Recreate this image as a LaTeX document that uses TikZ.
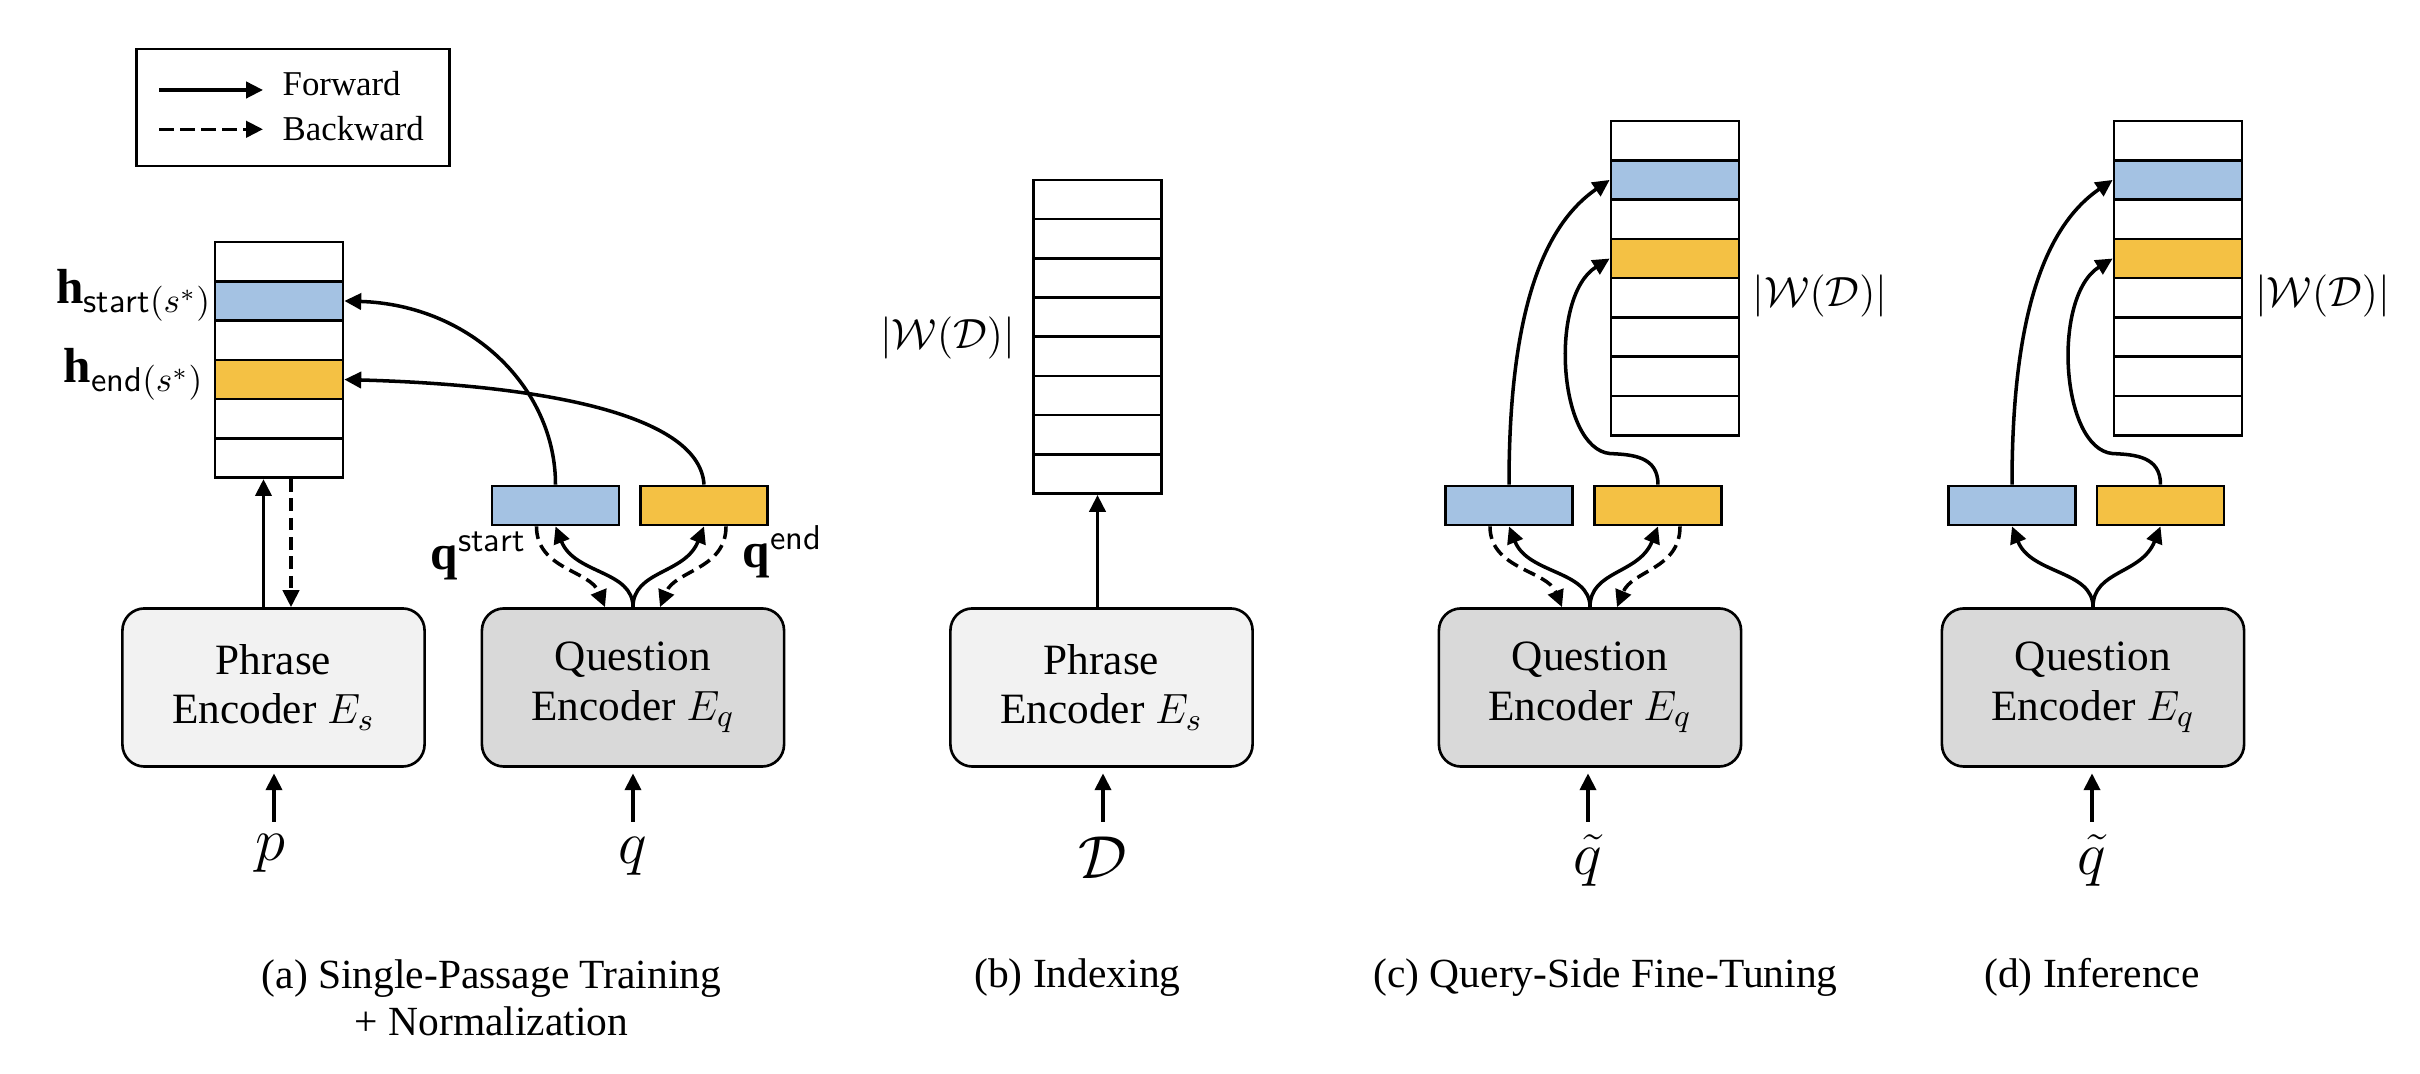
\documentclass[tikz,border=0pt]{standalone}
\usepackage{fontspec}
\setmainfont{Liberation Serif}
\usetikzlibrary{arrows.meta,calc}
\definecolor{vblue}{HTML}{A4C2E3}
\definecolor{vyellow}{HTML}{F4C144}
\definecolor{phrfill}{HTML}{F2F2F2}
\definecolor{qfill}{HTML}{D9D9D9}
\newcommand\qbranch[3]{%
  \draw[fwd] (#1.north) .. controls +(0,-37) and +(19,48) .. (#2.south);
  \draw[fwd] (#1.north) .. controls +(0,-37) and +(-19,48) .. (#3.south);}
\newcommand\qback[3]{%
  \draw[bwd] ([xshift=-0.19cm]#2.south) .. controls +(0,43) and +(-15,-37) .. ([xshift=-0.28cm]#1.north);
  \draw[bwd] ([xshift=0.22cm]#3.south) .. controls +(0,43) and +(15,-37) .. ([xshift=0.27cm]#1.north);}
\begin{document}
\begin{tikzpicture}[x=0.01cm,y=-0.01cm,
  enc/.style={draw, line width=0.75pt, rounded corners=0.22cm, minimum width=3.02cm, minimum height=1.58cm, inner sep=0pt, align=center, font=\fontsize{12.3}{14}\selectfont},
  phr/.style={enc, fill=phrfill},
  qenc/.style={enc, fill=qfill},
  vec/.style={draw, line width=0.8pt, minimum width=1.27cm, minimum height=0.39cm, inner sep=0pt},
  cell/.style={draw, line width=0.75pt, minimum width=1.28cm, minimum height=0.393cm, inner sep=0pt},
  fwd/.style={line width=1.0pt, -{Triangle[length=4.8pt,width=4.6pt]}},
  bwd/.style={fwd, dash pattern=on 3.6pt off 1.9pt},
  inlab/.style={font=\fontsize{17}{17}\selectfont, inner sep=0pt},
  captext/.style={font=\fontsize{11.8}{13.4}\selectfont, inner sep=0pt, align=center},
  mlab/.style={font=\fontsize{14}{14}\selectfont, inner sep=0pt},
  wlab/.style={font=\fontsize{11.5}{11.5}\selectfont, inner sep=0pt},
  leg/.style={font=\fontsize{9.9}{12}\selectfont, inner sep=0pt, anchor=base west}
]
\useasboundingbox (0,0) rectangle (2420,1074);

% legend
\node[draw, line width=0.7pt, minimum width=3.126cm, minimum height=1.167cm, inner sep=0pt] (legend) at (293,107.6) {};
\coordinate (lf1) at (159,90); \coordinate (lf2) at (263,90);
\coordinate (lb1) at (159,129.3); \coordinate (lb2) at (263,129.3);
\draw[fwd] (lf1) -- (lf2);
\draw[fwd, dash pattern=on 4.2pt off 1.8pt] (lb1) -- (lb2);
\node[leg] (lft) at (282,96) {Forward};
\node[leg] (lbt) at (282,140.7) {Backward};

% encoders
\node[phr] (aenc) at (273.5,687.5) {Phrase\\Encoder $E_s$};
\node[qenc] (aqenc) at (633,687.5) {Question\\Encoder $E_q$};
\node[phr] (benc) at (1101.5,687.5) {Phrase\\Encoder $E_s$};
\node[qenc] (cenc) at (1590,687.5) {Question\\Encoder $E_q$};
\node[qenc] (denc) at (2093,687.5) {Question\\Encoder $E_q$};

% stacks
\foreach \i/\col in {1/white,2/vblue,3/white,4/vyellow,5/white,6/white}
  \node[cell, fill=\col] (a\i) at (279,{242+39.3*(\i-0.5)}) {};
\foreach \i in {1,...,8}
  \node[cell, fill=white] (b\i) at (1097.5,{180+39.2*(\i-0.5)}) {};
\foreach \i/\col in {1/white,2/vblue,3/white,4/vyellow,5/white,6/white,7/white,8/white}
  \node[cell, fill=\col] (c\i) at (1675,{121+39.3*(\i-0.5)}) {};
\foreach \i/\col in {1/white,2/vblue,3/white,4/vyellow,5/white,6/white,7/white,8/white}
  \node[cell, fill=\col] (d\i) at (2178,{121+39.3*(\i-0.5)}) {};

% query vectors
\node[vec, fill=vblue] (aqs) at (555.5,505.5) {};
\node[vec, fill=vyellow] (aqe) at (704,505.5) {};
\node[vec, fill=vblue] (cqs) at (1509,505.5) {};
\node[vec, fill=vyellow] (cqe) at (1658,505.5) {};
\node[vec, fill=vblue] (dqs) at (2012,505.5) {};
\node[vec, fill=vyellow] (dqe) at (2160.5,505.5) {};

% labels
\node[mlab] (hs) at (134,295) {$\mathbf{h}_{\mathsf{start}(s^*)}$};
\node[mlab] (he) at (134,374) {$\mathbf{h}_{\mathsf{end}(s^*)}$};
\node[mlab, anchor=base east] (qsl) at (527,570) {$\mathbf{q}^{\mathsf{start}}$};
\node[mlab, anchor=base west] (qel) at (742,568) {$\mathbf{q}^{\mathsf{end}}$};
\node[wlab] (bw) at (947.5,338) {$|\mathcal{W}(\mathcal{D})|$};
\node[wlab] (cw) at (1820,296) {$|\mathcal{W}(\mathcal{D})|$};
\node[wlab] (dw) at (2322.5,296) {$|\mathcal{W}(\mathcal{D})|$};

% inputs
\node[inlab] (ap) at (270,853) {$p$};
\node[inlab] (aq) at (633,856) {$q$};
\node[inlab] (bD) at (1103,858) {$\mathcal{D}$};
\node[inlab] (cq) at (1588,860) {$\tilde{q}$};
\node[inlab] (dq) at (2092,860) {$\tilde{q}$};
\coordinate (ain) at (274,822);
\coordinate (aqin) at (633,822);
\coordinate (bin) at (1103,822);
\coordinate (cin) at (1588,822);
\coordinate (din) at (2092,822);
\draw[fwd] (ain) -- ([yshift=-0.055cm]ain |- aenc.south);
\draw[fwd] (aqin) -- ([yshift=-0.055cm]aqin |- aqenc.south);
\draw[fwd] (bin) -- ([yshift=-0.055cm]bin |- benc.south);
\draw[fwd] (cin) -- ([yshift=-0.055cm]cin |- cenc.south);
\draw[fwd] (din) -- ([yshift=-0.055cm]din |- denc.south);

% (a) phrase encoder <-> stack
\draw[fwd] ([xshift=-0.10cm]aenc.north) -- ([xshift=-0.10cm]aenc.north |- a6.south);
\draw[bwd] ([xshift=0.175cm]aenc.north |- a6.south) -- ([xshift=0.175cm]aenc.north);
% (b)
\draw[fwd] (benc.north -| b8.south) -- (b8.south);

% question branches
\qbranch{aqenc}{aqs}{aqe}
\qback{aqenc}{aqs}{aqe}
\qbranch{cenc}{cqs}{cqe}
\qback{cenc}{cqs}{cqe}
\qbranch{denc}{dqs}{dqe}

% (a) curves to stack
\draw[fwd] (aqs.north) .. controls +(0,-96) and +(127,4) .. (a2.east);
\draw[fwd] (aqe.north) .. controls +(-4,-66) and +(215,6) .. (a4.east);
% (c) curves
\draw[fwd] (cqs.north) .. controls +(0,-156) and +(-73,50) .. (c2.west);
\draw[fwd] (cqe.north) .. controls +(0,-28) and +(23,1) .. ++(-48,-31) .. controls +(-52,-5) and +(-61,38) .. (c4.west);
% (d) curves
\draw[fwd] (dqs.north) .. controls +(0,-156) and +(-73,50) .. (d2.west);
\draw[fwd] (dqe.north) .. controls +(0,-28) and +(23,1) .. ++(-48,-31) .. controls +(-52,-5) and +(-61,38) .. (d4.west);

% captions
\node[captext, anchor=north] (capa) at (491.5,959) {(a) Single-Passage Training\\+ Normalization};
\node[captext, anchor=base] (capb) at (1077.5,988) {(b) Indexing};
\node[captext, anchor=base] (capc) at (1605.5,988) {(c) Query-Side Fine-Tuning};
\node[captext, anchor=base] (capd) at (2092,988) {(d) Inference};
\end{tikzpicture}
\end{document}
